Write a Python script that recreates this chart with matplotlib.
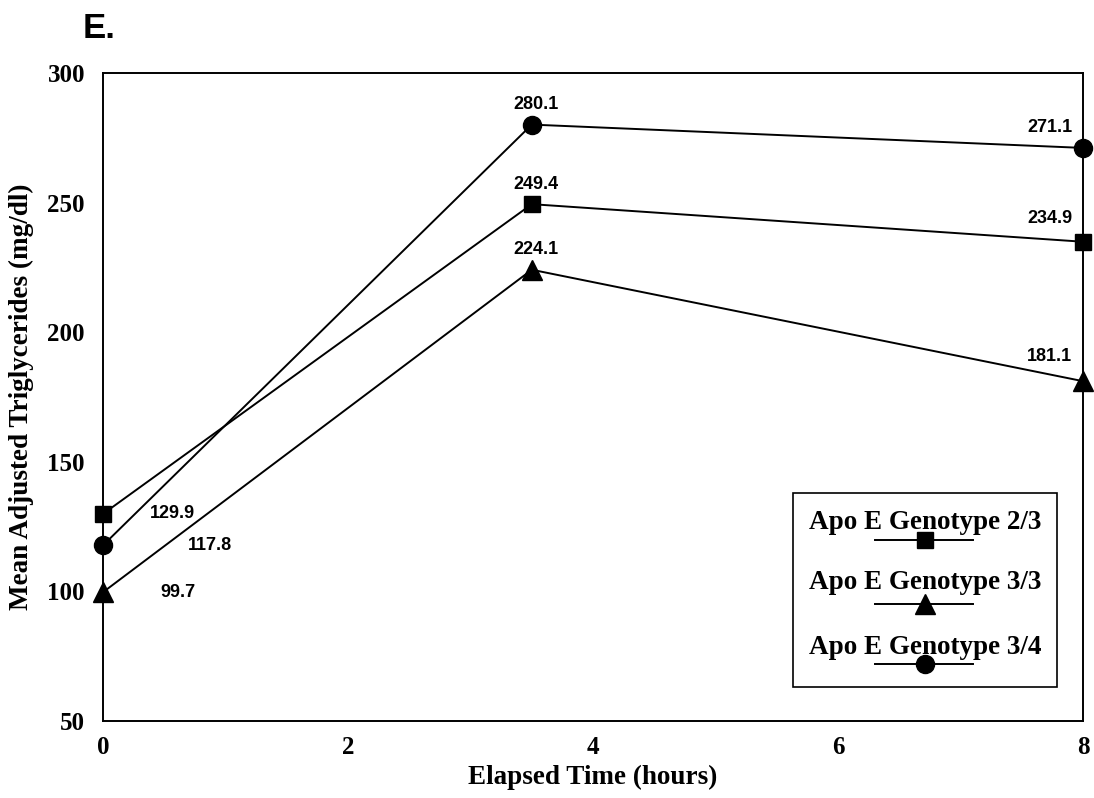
import matplotlib
matplotlib.use("Agg")
import matplotlib.pyplot as plt
from matplotlib.patches import Rectangle

# data
hours = [0, 3.5, 8]
geno_23 = [129.9, 249.4, 234.9]
geno_33 = [99.7, 224.1, 181.1]
geno_34 = [117.8, 280.1, 271.1]
names = ['Apo E Genotype 2/3', 'Apo E Genotype 3/3', 'Apo E Genotype 3/4']

serif = 'Liberation Serif'
sans = 'Liberation Sans'

fig = plt.figure(figsize=(10.94, 7.98), dpi=100)
ax = fig.add_axes([0.0942, 0.0965, 0.8958, 0.812])

series = [
    (geno_23, 's', 11.5, [(50, 0), (3, 14.5), (-24, 17)]),
    (geno_33, '^', 14.5, [(54, 0), (3, 14.5), (-24, 17.5)]),
    (geno_34, 'o', 13, [(77, 0), (3, 14.5), (-24, 14.5)]),
]

for vals, mk, ms, offs in series:
    ax.plot(hours, vals, color='black', lw=1.4, marker=mk, ms=ms,
            markerfacecolor='black', markeredgecolor='black', clip_on=False)
    for x, y, o in zip(hours, vals, offs):
        ax.annotate('%.1f' % y, (x, y), xytext=o, textcoords='offset points',
                    ha='center', va='center', fontsize=13, fontweight='bold',
                    family=sans)

ax.set_xlim(0, 8)
ax.set_ylim(50, 300)
ax.set_xticks([0, 2, 4, 6, 8])
ax.set_yticks([50, 100, 150, 200, 250, 300])
ax.tick_params(length=0)
ax.tick_params(axis='y', pad=13)
ax.tick_params(axis='x', pad=11)
for lab in ax.get_xticklabels() + ax.get_yticklabels():
    lab.set_fontfamily(serif)
    lab.set_fontweight('bold')
    lab.set_fontsize(18)
for sp in ax.spines.values():
    sp.set_linewidth(1.4)

ax.set_xlabel('Elapsed Time (hours)', fontsize=19.5, fontweight='bold', family=serif, labelpad=4)
ax.set_ylabel('Mean Adjusted Triglycerides (mg/dl)', fontsize=19.5, fontweight='bold', family=serif, labelpad=10)

# hand-made legend: text above a marker sample
W, H = 980.0, 648.0  # axes size in px
def ax_xy(px, py):
    return ((px - 103) / W, (721 - py) / H)

x0, y0 = ax_xy(793, 687)
x1, y1 = ax_xy(1057, 493)
ax.add_patch(Rectangle((x0, y0), x1 - x0, y1 - y0, transform=ax.transAxes,
                       facecolor='white', edgecolor='black', lw=1.2, zorder=5))
rows = [(522, 540), (583, 604), (648, 664)]
for name, (vals, mk, ms, offs), (ty, ly) in zip(names, series, rows):
    tx, tyy = ax_xy(925, ty)
    ax.text(tx, tyy, name, transform=ax.transAxes, ha='center', va='center',
            fontsize=19.5, fontweight='bold', family=serif, zorder=6)
    lx0, lyy = ax_xy(875, ly)
    lx1, _ = ax_xy(973, ly)
    lxm, _ = ax_xy(925, ly)
    ax.plot([lx0, lx1], [lyy, lyy], color='black', lw=1.4, transform=ax.transAxes,
            zorder=6, clip_on=False)
    ax.plot([lxm], [lyy], marker=mk, ms=ms, color='black', transform=ax.transAxes,
            zorder=7, clip_on=False)

fig.text(83 / 1094, 1 - 38 / 798, 'E.', fontsize=25, fontweight='bold', family=sans,
         ha='left', va='baseline')

fig.savefig('out.png', dpi=100)
